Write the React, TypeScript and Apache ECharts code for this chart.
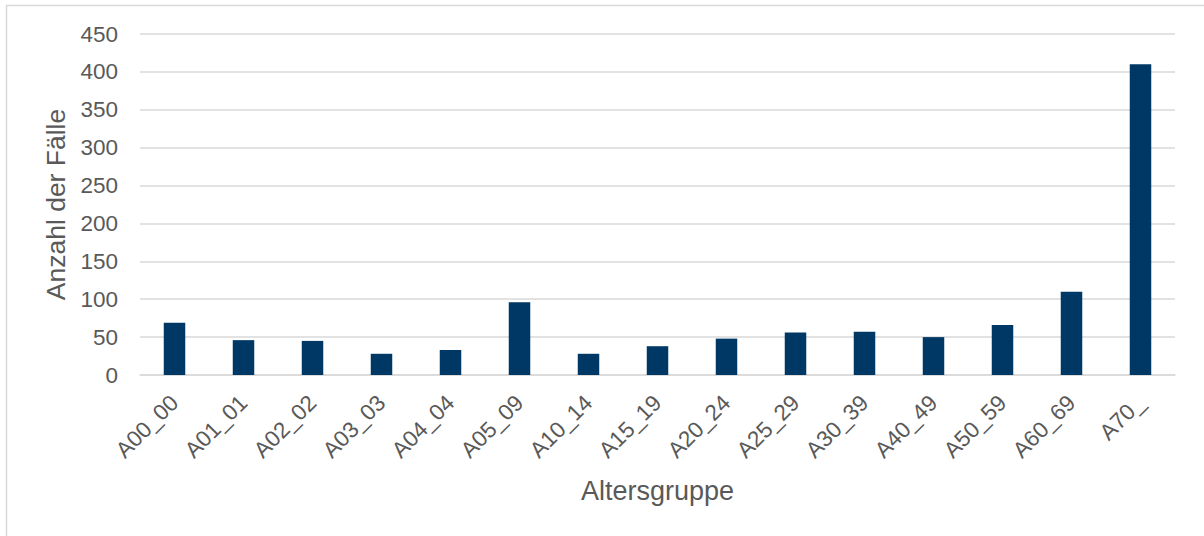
import React, { useEffect, useRef } from "react";
import * as echarts from "echarts";

const categories = [
  "A00_00", "A01_01", "A02_02", "A03_03", "A04_04", "A05_09", "A10_14", "A15_19",
  "A20_24", "A25_29", "A30_39", "A40_49", "A50_59", "A60_69", "A70_",
];
const cases = [69, 46, 45, 28, 33, 96, 28, 38, 48, 56, 57, 50, 66, 110, 410];
const yTicks = { min: 0, max: 450, interval: 50 };
const xTitle = "Altersgruppe";
const yTitle = "Anzahl der Fälle";

export default function App() {
  const ref = useRef<HTMLDivElement>(null);
  useEffect(() => {
    document.body.style.margin = "0";
    if (!ref.current) return;
    const chart = echarts.init(ref.current, undefined, { renderer: "svg" });
    const font = "'Liberation Sans', Arial, sans-serif";
    chart.setOption({
      animation: false,
      backgroundColor: "#ffffff",
      textStyle: { fontFamily: font },
      graphic: [
        {
          type: "rect",
          shape: { x: 6.5, y: 5.5, width: 1220, height: 560 },
          style: { fill: "none", stroke: "#d9d9d9", lineWidth: 1.5 },
          silent: true,
        },
      ],
      grid: { left: 140, right: 29, top: 34, bottom: 161, containLabel: false },
      xAxis: {
        type: "category",
        data: categories,
        name: xTitle,
        nameLocation: "middle",
        nameGap: 102,
        nameTextStyle: { color: "#595959", fontSize: 27, fontFamily: font },
        axisLine: { show: true, lineStyle: { color: "#d9d9d9", width: 1.5 } },
        axisTick: { show: false },
        axisLabel: {
          rotate: 45,
          interval: 0,
          margin: 24,
          color: "#595959",
          fontSize: 22.5,
          fontFamily: font,
        },
      },
      yAxis: {
        type: "value",
        min: yTicks.min,
        max: yTicks.max,
        interval: yTicks.interval,
        name: yTitle,
        nameLocation: "middle",
        nameGap: 71,
        nameRotate: 90,
        nameTextStyle: { color: "#595959", fontSize: 26.5, fontFamily: font },
        axisLine: { show: false },
        axisTick: { show: false },
        axisLabel: { margin: 22, color: "#595959", fontSize: 22.5, fontFamily: font },
        splitLine: { lineStyle: { color: "#d9d9d9", width: 1.5 } },
      },
      series: [
        {
          type: "bar",
          data: cases,
          barWidth: 21.5,
          itemStyle: { color: "#003865" },
        },
      ],
    });
    return () => chart.dispose();
  }, []);
  return <div ref={ref} style={{ width: 1204, height: 536 }} />;
}
